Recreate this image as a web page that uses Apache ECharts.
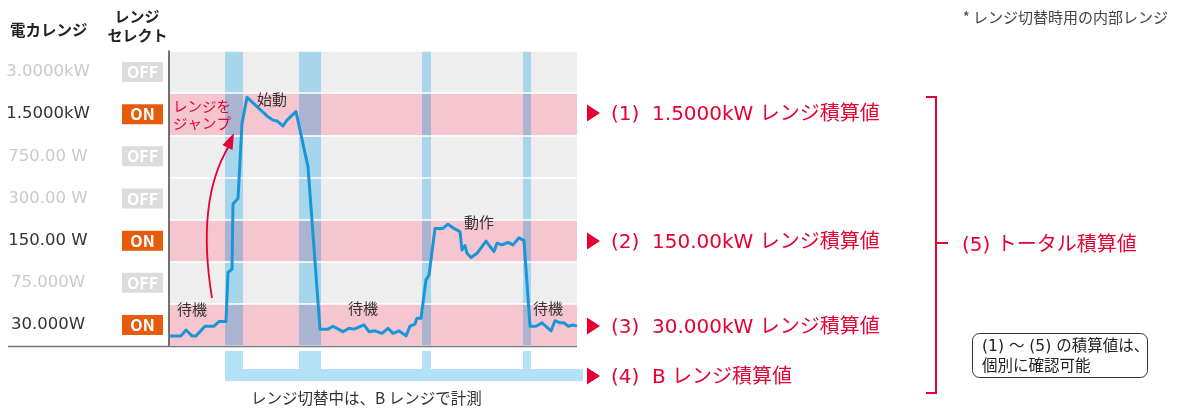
<!DOCTYPE html>
<html>
<head>
<meta charset="utf-8">
<title>レンジ積算値</title>
<script src="https://cdn.jsdelivr.net/npm/echarts@6/dist/echarts.min.js"></script>
<style>
    html, body { margin: 0; padding: 0; background: #fff; }
    #rangeChart { width: 1177px; height: 408px; }
</style>
</head>
<body>
<div id="rangeChart"></div>
<script>
// 電力レンジ（下から順）
var rangeLabels = ['30.000W', '75.000W', '150.00 W', '300.00 W', '750.00 W', '1.5000kW', '3.0000kW'];
var rangeState = ['ON', 'OFF', 'ON', 'OFF', 'OFF', 'ON', 'OFF'];

// 測定波形（時間, レンジ段の高さ）
var timeData = [0, 12, 17, 23, 27, 36, 45, 50, 57, 59, 63, 64, 69, 73, 78, 88, 98, 104, 108, 114, 118, 127, 129, 139,
    151, 159, 164, 174, 180, 185, 195, 200, 206, 213, 219, 224, 230, 237, 239, 241, 246, 248, 252, 257, 260,
    266, 274, 279, 285, 291, 293, 296, 298, 302, 308, 313, 317, 321, 325, 328, 333, 339, 344, 350, 355,
    361, 367, 373, 382, 386, 391, 395, 399, 404, 408];
var powerData = [0.24, 0.24, 0.38, 0.24, 0.24, 0.47, 0.47, 0.58, 0.58, 1.75, 1.82, 3.37, 3.50, 5.28, 5.90, 5.68, 5.46, 5.36, 5.34, 5.22, 5.36, 5.56, 5.56, 4.25,
    0.40, 0.40, 0.47, 0.34, 0.42, 0.40, 0.50, 0.34, 0.36, 0.30, 0.42, 0.30, 0.36, 0.24, 0.24, 0.47, 0.52, 0.66, 0.66, 1.57, 1.68,
    2.79, 2.79, 2.89, 2.79, 2.71, 2.28, 2.38, 2.20, 2.10, 2.20, 2.36, 2.49, 2.36, 2.24, 2.44, 2.40, 2.46, 2.40, 2.57, 2.50,
    0.47, 0.47, 0.55, 0.36, 0.60, 0.55, 0.55, 0.47, 0.50, 0.47];

// レンジ切替中（Bレンジ）の区間
var switchStart = [56, 130, 253, 354];
var switchEnd = [74, 152, 262, 362];

// 右側の積算値ラベル
var sumLabels = ['(1)  1.5000kW レンジ積算値', '(2)  150.00kW レンジ積算値', '(3)  30.000kW レンジ積算値', '(4)  B レンジ積算値'];
var sumLabelY = [113, 241, 326, 376];

var RED = '#e60033';
var FONT = '"Noto Sans CJK JP", "Noto Sans", sans-serif';
var WIDE = '"DejaVu Sans", "Noto Sans CJK JP", sans-serif';

function txt(x, y, text, size, color, extra) {
    var style = {
        x: x, y: y, text: text,
        fontSize: size, fontFamily: FONT,
        fill: color, verticalAlign: 'middle'
    };
    for (var k in extra) style[k] = extra[k];
    return { type: 'text', silent: true, z: 100, style: style };
}

function rangeChart() {
    var chart = echarts.init(document.getElementById('rangeChart'));
    var lineData = [];
    for (var i = 0; i < timeData.length; i++) {
        lineData.push([timeData[i], powerData[i]]);
    }
    var rowIdx = [];
    for (var r = 0; r < rangeLabels.length; r++) rowIdx.push([r]);
    var bandData = [];
    for (var b = 0; b < switchStart.length; b++) bandData.push([switchStart[b], switchEnd[b]]);

    var graphic = [
        txt(10, 30, '電カレンジ', 15.5, '#222', { fontWeight: 'bold' }),
        txt(137, 16, 'レンジ', 15, '#222', { fontWeight: 'bold', align: 'center' }),
        txt(137.5, 35, 'セレクト', 15, '#222', { fontWeight: 'bold', align: 'center' }),
        txt(1168, 17, '* レンジ切替時用の内部レンジ', 15, '#444', { align: 'right' }),
        // 下の基準線
        { type: 'line', silent: true, z: 100, shape: { x1: 8, y1: 346.5, x2: 577, y2: 346.5 }, style: { stroke: '#777', lineWidth: 1.5 } },
        // Bレンジのバー
        { type: 'rect', silent: true, shape: { x: 225, y: 369, width: 358, height: 12 }, style: { fill: '#b3e1f8' } },
        txt(251, 398, 'レンジ切替中は、B レンジで計測', 15.5, '#333'),
        // 図中の注記
        txt(173, 106, 'レンジを', 14.5, RED),
        txt(173, 123, 'ジャンプ', 14.5, RED),
        txt(257, 99, '始動', 15, '#333'),
        txt(464, 222, '動作', 15, '#333'),
        txt(177, 309, '待機', 15, '#333'),
        txt(348, 308, '待機', 15, '#333'),
        txt(533, 308, '待機', 15, '#333'),
        { type: 'bezierCurve', silent: true, z: 100, shape: { x1: 212, y1: 298, cpx1: 196, cpy1: 200, x2: 229, y2: 146 }, style: { stroke: RED, lineWidth: 1.8, fill: null } },
        { type: 'polygon', silent: true, z: 100, shape: { points: [[234, 133], [222.5, 145], [232.5, 150]] }, style: { fill: RED } },
        // トータル括弧
        { type: 'polyline', silent: true, shape: { points: [[926, 97], [936, 97], [936, 393], [926, 393]] }, style: { stroke: RED, lineWidth: 2, fill: null } },
        { type: 'line', silent: true, shape: { x1: 936, y1: 243, x2: 948, y2: 243 }, style: { stroke: RED, lineWidth: 2 } },
        txt(962, 246, '(5) トータル積算値', 20, RED, { fontFamily: WIDE }),
        // 注記ボックス
        { type: 'rect', silent: true, shape: { x: 972.5, y: 333.5, width: 175, height: 44, r: 7 }, style: { fill: '#fff', stroke: '#333', lineWidth: 1 } },
        txt(982, 347, '(1) 〜 (5) の積算値は、', 15.5, '#222', { fontFamily: WIDE }),
        txt(982, 365, '個別に確認可能', 15.5, '#222')
    ];
    for (var s = 0; s < sumLabels.length; s++) {
        var cy = sumLabelY[s];
        graphic.push({ type: 'polygon', silent: true, shape: { points: [[587, cy - 8.5], [587, cy + 8.5], [600, cy]] }, style: { fill: RED } });
        graphic.push(txt(611, cy + 2, sumLabels[s], 20, RED, { fontFamily: WIDE }));
    }

    var option = {
        animation: false,
        backgroundColor: '#fff',
        grid: { left: 169, right: 600, top: 51, bottom: 62 },
        xAxis: { type: 'value', min: 0, max: 408, show: false },
        yAxis: [{
            type: 'value',
            min: 0,
            max: 7,
            interval: 1,
            axisLabel: { show: false },
            axisTick: { show: false },
            axisLine: { show: true, lineStyle: { color: '#444', width: 1.5 } },
            splitLine: { show: true, lineStyle: { color: '#fff', width: 1.5 } },
            z: 4
        }, {
            type: 'category',
            data: rangeLabels,
            position: 'left',
            axisLine: { show: false },
            axisTick: { show: false },
            axisLabel: {
                margin: 6,
                formatter: function (value, index) {
                    var on = rangeState[index] == 'ON';
                    return '{' + (on ? 'labOn' : 'labOff') + '|' + value + '}{gap|}{' + (on ? 'on' : 'off') + '|' + rangeState[index] + '}';
                },
                rich: {
                    labOn: { width: 86, align: 'right', fontSize: 16.5, color: '#333', fontFamily: WIDE },
                    labOff: { width: 86, align: 'right', fontSize: 16.5, color: '#cacaca', fontFamily: WIDE },
                    gap: { width: 31 },
                    on: { width: 41, height: 20, lineHeight: 20, align: 'center', backgroundColor: '#e65c0c', color: '#fff', fontWeight: 'bold', fontSize: 16, fontFamily: FONT },
                    off: { width: 41, height: 20, lineHeight: 20, align: 'center', backgroundColor: '#dcdcdc', color: '#fff', fontWeight: 'bold', fontSize: 16, fontFamily: FONT }
                }
            }
        }],
        graphic: graphic,
        series: [{
            // レンジ段の背景
            type: 'custom',
            z: 1,
            silent: true,
            data: rowIdx,
            renderItem: function (params, api) {
                var r = api.value(0);
                var p0 = api.coord([0, r + 1]);
                var p1 = api.coord([408, r]);
                return {
                    type: 'rect',
                    shape: { x: p0[0], y: p0[1], width: p1[0] - p0[0], height: p1[1] - p0[1] },
                    style: { fill: rangeState[r] == 'ON' ? '#f5c6d0' : '#eeeeee' }
                };
            }
        }, {
            // レンジ切替中の帯
            type: 'custom',
            z: 2,
            silent: true,
            clip: false,
            data: bandData,
            renderItem: function (params, api) {
                var x0 = api.value(0), x1 = api.value(1);
                var children = [];
                for (var r = 0; r < rangeLabels.length; r++) {
                    var p0 = api.coord([x0, r + 1]);
                    var p1 = api.coord([x1, r]);
                    children.push({
                        type: 'rect',
                        shape: { x: p0[0], y: p0[1], width: p1[0] - p0[0], height: p1[1] - p0[1] },
                        style: { fill: rangeState[r] == 'ON' ? '#a8b4d0' : '#a6d5ec' }
                    });
                }
                var b0 = api.coord([x0, 0]);
                var b1 = api.coord([x1, 0]);
                children.push({
                    type: 'rect',
                    shape: { x: b0[0], y: b0[1] + 5, width: b1[0] - b0[0], height: 18 },
                    style: { fill: '#b3e1f8' }
                });
                return { type: 'group', children: children };
            }
        }, {
            type: 'line',
            z: 5,
            data: lineData,
            symbol: 'none',
            lineStyle: { color: '#1a96d8', width: 3, join: 'round' }
        }]
    };
    chart.setOption(option);
    return chart;
}

rangeChart();
</script>
</body>
</html>
